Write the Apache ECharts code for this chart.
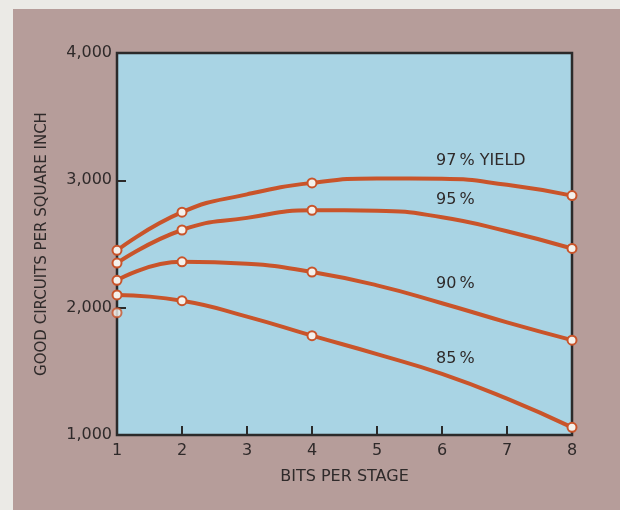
<!DOCTYPE html>
<html>
<head>
<meta charset="utf-8">
<script src="https://cdn.jsdelivr.net/npm/echarts@6/dist/echarts.min.js"></script>
<style>
  html, body { margin: 0; padding: 0; background: #ebeae6; }
  #chart { width: 620px; height: 510px; }
</style>
</head>
<body>
<div id="chart"></div>
<script>
// Data
const bitsPerStage = [1, 2, 3, 4, 5, 6, 7, 8];
const markedBits = [1, 2, 4, 8];
const yield97 = [2450, 2750, 2890, 2980, 3015, 3012, 2965, 2880];
const yield95 = [2350, 2610, 2705, 2765, 2762, 2710, 2600, 2465];
const yield90 = [2215, 2360, 2345, 2280, 2175, 2035, 1885, 1745];
const yield85 = [2100, 2055, 1930, 1780, 1635, 1480, 1285, 1060];
const extraPoint = [[1, 1960]];
const curveLabels = ['97\u2009% YIELD', '95\u2009%', '90\u2009%', '85\u2009%'];

const lineColor = '#c9542a';
const textColor = '#2f2a2a';
const font = 'DejaVu Sans';

function buildData(values) {
  return bitsPerStage.map((x, i) => {
    const item = { value: [x, values[i]] };
    if (markedBits.indexOf(x) < 0) item.symbol = 'none';
    return item;
  });
}

function lineSeries(values) {
  return {
    type: 'line',
    data: buildData(values),
    smooth: 0.5,
    clip: false,
    symbol: 'circle',
    symbolSize: 9,
    showAllSymbol: true,
    lineStyle: { color: lineColor, width: 4 },
    itemStyle: { color: '#f4f1ec', borderColor: lineColor, borderWidth: 2 },
    z: 3
  };
}

const chart = echarts.init(document.getElementById('chart'), null, { renderer: 'canvas' });

const labelPos = [
  { left: 436, top: 153 },
  { left: 436, top: 192 },
  { left: 436, top: 276 },
  { left: 436, top: 351 }
];

chart.setOption({
  animation: false,
  backgroundColor: '#ebeae6',
  grid: {
    left: 117, right: 48, top: 53, bottom: 75,
    show: true,
    backgroundColor: '#a9d4e4',
    borderColor: '#2b2a2a',
    borderWidth: 2.5
  },
  xAxis: {
    type: 'value',
    z: 2,
    min: 1, max: 8, interval: 1,
    axisLine: { show: false },
    splitLine: { show: false },
    axisTick: { show: true, inside: true, length: 9, lineStyle: { color: '#2b2a2a', width: 2 } },
    axisLabel: { color: textColor, fontFamily: font, fontSize: 16, margin: 8 },
    name: 'BITS PER STAGE',
    nameLocation: 'middle',
    nameGap: 34,
    nameTextStyle: { color: textColor, fontFamily: font, fontSize: 16 }
  },
  yAxis: {
    type: 'value',
    z: 2,
    min: 1000, max: 4000, interval: 1000,
    axisLine: { show: false },
    splitLine: { show: false },
    axisTick: { show: true, inside: true, length: 9, lineStyle: { color: '#2b2a2a', width: 2 } },
    axisLabel: {
      color: textColor, fontFamily: font, fontSize: 16, margin: 5,
      formatter: v => v.toLocaleString('en-US')
    },
    name: 'GOOD CIRCUITS PER SQUARE INCH',
    nameLocation: 'middle',
    nameGap: 67,
    nameTextStyle: { color: textColor, fontFamily: font, fontSize: 15 }
  },
  graphic: [
    { type: 'rect', left: 13, top: 9, shape: { width: 607, height: 501 }, style: { fill: '#b69d9a' }, z: -10, silent: true }
  ].concat(curveLabels.map((t, i) => ({
    type: 'text', left: labelPos[i].left, top: labelPos[i].top, z: 10,
    style: { text: t, fill: textColor, font: '16px "DejaVu Sans"' }
  }))),
  series: [
    lineSeries(yield97),
    lineSeries(yield95),
    lineSeries(yield90),
    lineSeries(yield85),
    {
      type: 'scatter',
      data: extraPoint,
      symbol: 'circle',
      symbolSize: 9,
      clip: false,
      itemStyle: { color: '#f4f1ec', borderColor: lineColor, borderWidth: 2 },
      z: 3
    }
  ]
});
</script>
</body>
</html>
